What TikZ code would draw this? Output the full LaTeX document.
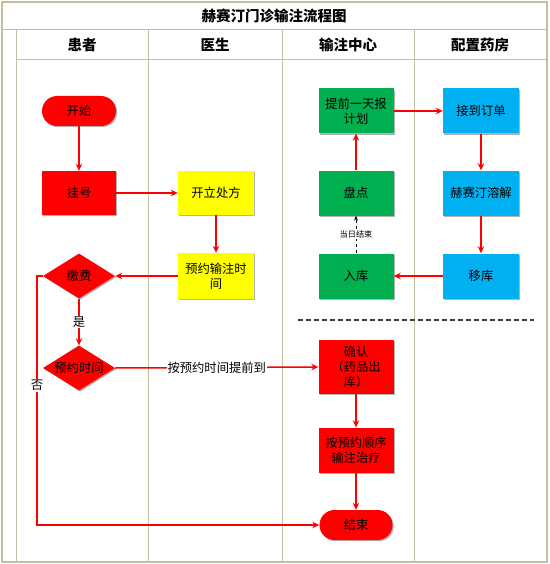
\documentclass[tikz,border=0pt]{standalone}
\usepackage{fontspec}
\setmainfont{Noto Sans CJK SC}
\usetikzlibrary{arrows.meta,shapes.geometric,shadows}
\definecolor{frame}{RGB}{198,190,160}
\definecolor{boxred}{RGB}{255,0,0}
\definecolor{boxgreen}{RGB}{0,176,80}
\definecolor{boxblue}{RGB}{0,176,240}
\definecolor{boxyellow}{RGB}{255,255,0}
\begin{document}
\begin{tikzpicture}[x=1pt,y=-1pt,
  base/.style={font=\fontsize{12.3}{15}\selectfont, align=center, inner sep=1pt,
    drop shadow={shadow xshift=1.2pt,shadow yshift=-1.2pt,opacity=0.3,fill=black}},
  procbox/.style={base, rectangle, minimum width=75pt, minimum height=45pt},
  redbox/.style={procbox, fill=boxred},
  greenbox/.style={procbox, fill=boxgreen},
  bluebox/.style={procbox, fill=boxblue},
  yellowbox/.style={procbox, fill=boxyellow},
  term/.style={base, rectangle, rounded corners=15pt, fill=boxred, minimum width=74pt, minimum height=30pt},
  decide/.style={base, diamond, fill=boxred, aspect=1.6, inner xsep=-8pt, inner ysep=-2pt, minimum width=72pt, minimum height=45pt},
  flow/.style={draw=boxred, line width=1.5pt, -{Stealth[length=7pt,width=6.5pt]}},
  softflow/.style={draw=black, line width=0.9pt, dashed, -{Stealth[length=5pt,width=4pt]}},
  lbl/.style={fill=white, inner sep=1pt, font=\fontsize{12.3}{14}\selectfont},
  smalllbl/.style={fill=white, inner sep=1pt, font=\fontsize{8.2}{10}\selectfont},
  headtxt/.style={font=\bfseries\fontsize{14.5}{17}\selectfont},
  laneline/.style={draw=frame, line width=1pt},
]
\useasboundingbox (0,0) rectangle (549,564);
\fill[white] (0,0) rectangle (549,564);
% frame
\draw[frame, line width=2pt] (2,2) rectangle (547,562);
\draw[laneline] (2,30) -- (547,30);
\draw[laneline] (16,60) -- (547,60);
\draw[laneline] (16,30) -- (16,562);
\draw[laneline] (148,30) -- (148,562);
\draw[laneline] (282,30) -- (282,562);
\draw[laneline] (414,30) -- (414,562);
% titles
\node[headtxt] (title) at (274,16) {赫赛汀门诊输注流程图};
\node[headtxt] (h1) at (82,45) {患者};
\node[headtxt] (h2) at (215,45) {医生};
\node[headtxt] (h3) at (348,45) {输注中心};
\node[headtxt] (h4) at (480,45) {配置药房};
% separator
\coordinate (d1) at (298,320);
\coordinate (d2) at (534,320);
\draw[black!75, line width=1.2pt, dash pattern=on 5pt off 3pt] (d1) -- (d2);
% nodes
\node[term] (start) at (79,111) {开始};
\node[redbox, minimum width=74pt, minimum height=44pt] (reg) at (79,193) {挂号};
\node[yellowbox, minimum width=76pt, minimum height=44pt] (rx) at (216,193) {开立处方};
\node[yellowbox, minimum width=76pt, minimum height=46pt] (appt) at (216,276) {预约输注时\\间};
\node[decide] (pay) at (79,276) {缴费};
\node[decide] (time) at (79,368) {预约时间};
\node[greenbox] (plan) at (356,111) {提前一天报\\计划};
\node[greenbox] (inv) at (356,193) {盘点};
\node[greenbox] (stock) at (356,276) {入库};
\node[bluebox, minimum width=76pt] (order) at (481,111) {接到订单};
\node[bluebox, minimum width=76pt] (dis) at (481,193) {赫赛汀溶解};
\node[bluebox, minimum width=76pt] (move) at (481,276) {移库};
\node[redbox, minimum height=54pt] (confirm) at (356,367) {确认\\（药品出\\库）};
\node[redbox] (treat) at (356,450) {按预约顺序\\输注治疗};
\node[term, minimum width=73pt] (end) at (356,525) {结束};
% connectors
\draw[flow] (start) -- (reg);
\draw[flow] (reg) -- (rx);
\draw[flow] (rx) -- (appt);
\draw[flow] (appt) -- (pay.east);
\draw[flow] (pay) -- node[lbl] (yes) {是} (time);
\coordinate (c1) at (37,276);
\coordinate (c2) at (37,525);
\draw[flow] (pay.west) -- (c1) -- node[lbl, pos=0.44] (no) {否} (c2) -- (end.west);
\draw[flow] (time.east) -- node[lbl] (early) {按预约时间提前到} (confirm.west);
\draw[flow] (confirm) -- (treat);
\draw[flow] (treat) -- (end);
\draw[softflow] (stock) -- node[smalllbl] (dayend) {当日结束} (inv);
\draw[flow] (inv) -- (plan);
\draw[flow] (plan) -- (order);
\draw[flow] (order) -- (dis);
\draw[flow] (dis) -- (move);
\draw[flow] (move) -- (stock);
\end{tikzpicture}
\end{document}
